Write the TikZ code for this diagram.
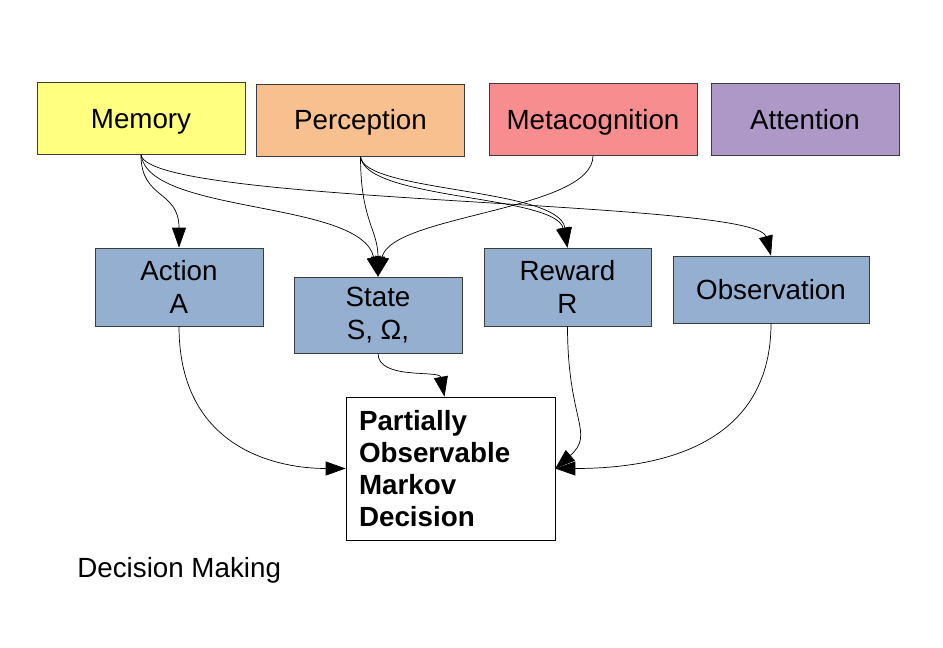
\documentclass[tikz,border=0pt]{standalone}
\usepackage{fontspec}
\setmainfont{Liberation Sans}
\usepackage{tikz}
\usetikzlibrary{positioning,arrows.meta}
\definecolor{memyellow}{RGB}{255,255,128}
\definecolor{perorange}{RGB}{248,192,142}
\definecolor{metapink}{RGB}{247,141,143}
\definecolor{attpurple}{RGB}{174,152,200}
\definecolor{partblue}{RGB}{149,175,208}
\definecolor{boxline}{RGB}{60,60,60}

\begin{document}
\begin{tikzpicture}[x=0.02cm,y=-0.02cm,
  font=\fontsize{15.8}{18.8}\selectfont,
  top/.style = {draw=boxline, minimum width=4.16cm, minimum height=1.44cm,
    text height=14.3pt, text depth=3.35pt},
  part/.style = {draw=boxline, fill=partblue, minimum width=3.36cm, minimum height=1.56cm,
    align=center},
  arr/.style = {-{Triangle[length=0.4cm,width=0.28cm]}}]
\useasboundingbox (0,0) rectangle (943,648);

\node[top, fill=memyellow] (mem) at (141,118.5) {Memory};
\node[top, fill=perorange] (per) at (360.5,120) {Perception};
\node[top, fill=metapink] (meta) at (593,119.5) {Metacognition};
\node[top, fill=attpurple, minimum width=3.76cm] (att) at (805,119.5) {Attention};

\node[part] (act) at (179,287) {Action\\A};
\node[part, minimum height=1.52cm] (state) at (378,315) {State\\S, Ω,\rule[-1.2pt]{0pt}{0pt}};
\node[part, minimum width=3.34cm] (rew) at (567.5,287) {Reward\\R};
\node[part, minimum width=3.92cm, minimum height=1.34cm, text height=14.3pt,
  text depth=3.35pt] (obs) at (771,289.5) {Observation};

\node[draw, fill=white, text width=3.66cm, inner sep=0.26cm, minimum height=2.86cm,
  align=left, font=\fontsize{15.8}{18.2}\selectfont\bfseries] (pomd) at (450.5,468.5)
  {Partially\\Observable\\Markov\\Decision};

\node[anchor=west, inner sep=0pt] (dm) at (77,570) {Decision Making};

\draw[arr] (mem.south) .. controls +(0,45) and +(0,-58) .. (act.north);
\draw[arr] (mem.south) .. controls +(8,60) and +(-17,-77) .. (state.north);
\draw[arr] (mem.south) .. controls +(8,50) and +(-15,-56) .. (obs.north);

\draw[arr] (per.south) .. controls +(0,64) and +(0,-47) .. (state.north);
\draw[arr] (per.south) .. controls +(4,44) and +(-12,-53) .. (rew.north);
\draw[arr] (per.south) .. controls +(2,36) and +(-8,-60) .. (rew.north);

\draw[arr] (meta.south) .. controls +(0,55) and +(13,-62) .. (state.north);

\draw[arr] (state.south) .. controls +(0,27) and +(-5,-27) .. ([xshift=-0.12cm]pomd.north);
\draw[arr] (act.south) .. controls +(0,124) and +(-66,0) .. (pomd.west);
\draw[arr] (rew.south) .. controls +(0,95) and +(40,-35) .. (pomd.east);
\draw[arr] (obs.south) .. controls +(0,127) and +(95,0) .. (pomd.east);
\end{tikzpicture}
\end{document}
